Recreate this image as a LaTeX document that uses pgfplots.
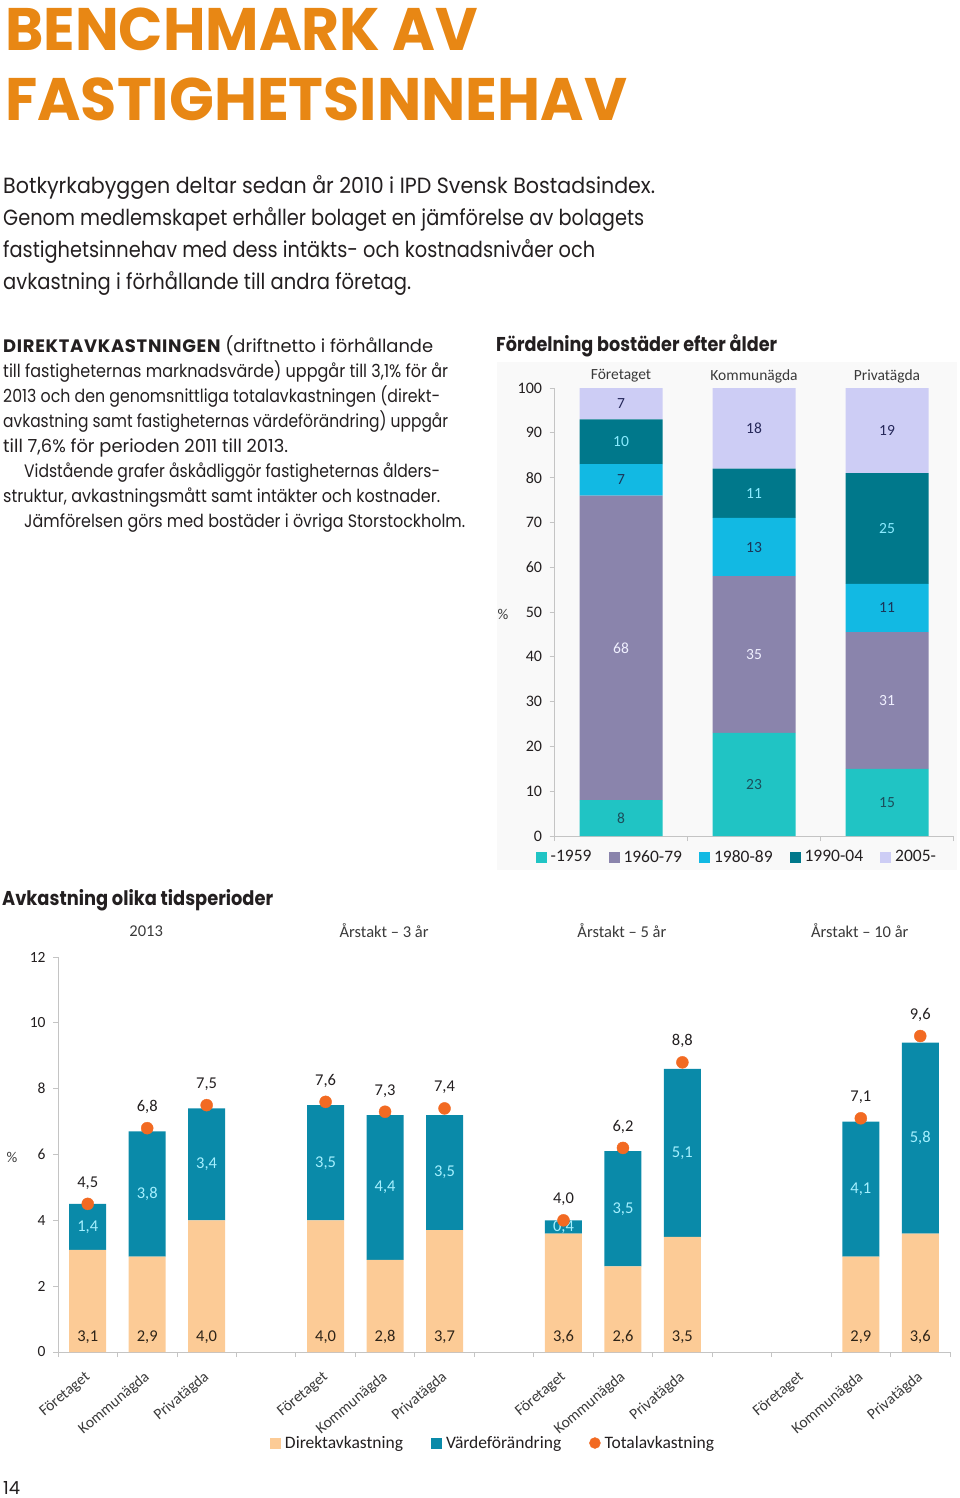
\documentclass[border=0pt]{standalone}
\usepackage{fontspec}
\usepackage{graphicx}
\usepackage{pgfplots}
\pgfplotsset{compat=1.18}
\setmainfont{Carlito}
\newfontfamily\fut{Poppins}
\newfontfamily\calb{Carlito}
\newcommand\fs[1]{\fontsize{#1bp}{#1bp}\selectfont}
\newsavebox\fitbox
\newcommand\fitw[2]{\sbox\fitbox{#2}\pgfmathsetmacro\fitsx{#1/\the\wd\fitbox}\scalebox{\fitsx}[1]{\usebox\fitbox}}
\definecolor{orangeT}{HTML}{E88714}
\definecolor{txt}{HTML}{231F20}
\definecolor{lbl}{HTML}{3A3A3A}
\definecolor{axgrey}{HTML}{C4C4C4}
\definecolor{c1959}{HTML}{20C4C4}
\definecolor{c1960}{HTML}{8A84AC}
\definecolor{c1980}{HTML}{12B9E3}
\definecolor{c1990}{HTML}{00788B}
\definecolor{c2005}{HTML}{CDCDF5}
\definecolor{t1959}{HTML}{1B4F5C}
\definecolor{t1960}{HTML}{F0F0FF}
\definecolor{t1980}{HTML}{1B3558}
\definecolor{t1990}{HTML}{8AEBFF}
\definecolor{t2005}{HTML}{26285A}
\definecolor{direkt}{HTML}{FCCB96}
\definecolor{varde}{HTML}{0A8AA9}
\definecolor{lcyan}{HTML}{A6F0FF}
\definecolor{dot}{HTML}{F26A22}
\definecolor{dlbl}{HTML}{2E2418}
\begin{document}
\begin{tikzpicture}
\path[use as bounding box] (0,0) rectangle (960bp,-1498bp);
% ---- title
\node[anchor=base west, inner sep=0pt, text=orangeT] at (5bp,-50bp) {\fitw{473bp}{\fut\bfseries\fs{60}BENCHMARK AV}};
\node[anchor=base west, inner sep=0pt, text=orangeT] at (5bp,-120bp) {\fitw{622bp}{\fut\bfseries\fs{60}FASTIGHETSINNEHAV}};
% ---- intro
\node[anchor=base west, inner sep=0pt, text=txt] at (3bp,-193bp) {\fitw{652bp}{\fut\fs{22}Botkyrkabyggen deltar sedan år 2010 i IPD Svensk Bostadsindex.}};
\node[anchor=base west, inner sep=0pt, text=txt] at (3bp,-225bp) {\fitw{641bp}{\fut\fs{22}Genom medlemskapet erhåller bolaget en jämförelse av bolagets}};
\node[anchor=base west, inner sep=0pt, text=txt] at (3bp,-257bp) {\fitw{592bp}{\fut\fs{22}fastighetsinnehav med dess intäkts- och kostnadsnivåer och}};
\node[anchor=base west, inner sep=0pt, text=txt] at (3bp,-289bp) {\fitw{408bp}{\fut\fs{22}avkastning i förhållande till andra företag.}};
% ---- left column
\node[anchor=base west, inner sep=0pt, text=txt] at (3bp,-352bp) {\fitw{430bp}{\fut\fs{18}{\bfseries\addfontfeatures{LetterSpace=4}DIREKTAVKASTNINGEN} (driftnetto i förhållande}};
\node[anchor=base west, inner sep=0pt, text=txt] at (3bp,-377bp) {\fitw{445bp}{\fut\fs{18}till fastigheternas marknadsvärde) uppgår till 3,1\% för år}};
\node[anchor=base west, inner sep=0pt, text=txt] at (3bp,-402bp) {\fitw{437bp}{\fut\fs{18}2013 och den genomsnittliga totalavkastningen (direkt-}};
\node[anchor=base west, inner sep=0pt, text=txt] at (3bp,-427bp) {\fitw{445bp}{\fut\fs{18}avkastning samt fastigheternas värdeförändring) uppgår}};
\node[anchor=base west, inner sep=0pt, text=txt] at (3bp,-452bp) {\fitw{285bp}{\fut\fs{18}till 7,6\% för perioden 2011 till 2013.}};
\node[anchor=base west, inner sep=0pt, text=txt] at (24bp,-477bp) {\fitw{416bp}{\fut\fs{18}Vidstående grafer åskådliggör fastigheternas ålders-}};
\node[anchor=base west, inner sep=0pt, text=txt] at (3bp,-502bp) {\fitw{437bp}{\fut\fs{18}struktur, avkastningsmått samt intäkter och kostnader.}};
\node[anchor=base west, inner sep=0pt, text=txt] at (24bp,-527bp) {\fitw{441bp}{\fut\fs{18}Jämförelsen görs med bostäder i övriga Storstockholm.}};
% ---- headings
\node[anchor=base west, inner sep=0pt, text=txt] at (496bp,-351bp) {\fitw{281bp}{\fut\bfseries\fs{20}Fördelning bostäder efter ålder}};
\node[anchor=base west, inner sep=0pt, text=txt] at (2bp,-905bp) {\fitw{271bp}{\fut\bfseries\fs{20}Avkastning olika tidsperioder}};
\node[anchor=base west, inner sep=0pt, text=txt] at (3bp,-1494bp) {\fitw{17bp}{\fut\fs{18}14}};
% ---- faint chart background
\fill[black!2.5] (497bp,-362bp) rectangle (957bp,-870bp);

% ================= top chart
\begin{axis}[
  at={(554.5bp,-836bp)}, anchor=south west,
  scale only axis, width=399bp, height=448bp,
  ybar stacked, bar width=83bp,
  xmin=-0.5, xmax=2.5, ymin=0, ymax=100,
  /pgf/number format/assume math mode=true,
  axis x line*=bottom, axis y line*=left,
  axis line style={draw=axgrey, line width=1bp},
  xtick={0,1,2}, xticklabels={Företaget,Kommunägda,Privatägda},
  minor xtick={-0.5,0.5,1.5,2.5},
  ytick={0,10,...,100}, minor ytick={0,10,...,100},
  major tick length=0pt, minor tick length=5bp, tick align=outside,
  minor tick style={draw=axgrey, line width=0.8bp},
  xticklabel style={font=\calb\fs{15.5}, text=lbl, anchor=center, yshift=460bp},
  yticklabel style={font=\calb\fs{16}, text=txt, xshift=-9bp},
  ylabel={\%},
  every axis y label/.style={at={(axis description cs:-0.129,0.4955)}, anchor=center, font=\calb\fs{15}, text=lbl},
  point meta=explicit symbolic,
  nodes near coords,
  every node near coord/.append style={font=\calb\fs{15.5}, anchor=center},
  legend style={draw=none, fill=none, font=\calb\fs{17.5}, text=txt, legend columns=5,
    at={(axis description cs:0.457,-0.047)}, anchor=center,
    /tikz/every odd column/.append style={column sep=2bp},
    /tikz/every even column/.append style={column sep=15bp}},
]
\addplot[fill=c1959, draw=none, every node near coord/.append style={text=t1959},
  legend image code/.code={\fill[c1959] (0bp,-5.5bp) rectangle (11bp,5.5bp);}]
  coordinates {(0,8) [8] (1,23) [23] (2,15) [15]};
\addlegendentry{-1959}
\addplot[fill=c1960, draw=none, every node near coord/.append style={text=t1960},
  legend image code/.code={\fill[c1960] (0bp,-5.5bp) rectangle (11bp,5.5bp);}]
  coordinates {(0,68) [68] (1,35) [35] (2,30.5) [31]};
\addlegendentry{1960-79}
\addplot[fill=c1980, draw=none, every node near coord/.append style={text=t1980},
  legend image code/.code={\fill[c1980] (0bp,-5.5bp) rectangle (11bp,5.5bp);}]
  coordinates {(0,7) [7] (1,13) [13] (2,10.8) [11]};
\addlegendentry{1980-89}
\addplot[fill=c1990, draw=none, every node near coord/.append style={text=t1990},
  legend image code/.code={\fill[c1990] (0bp,-5.5bp) rectangle (11bp,5.5bp);}]
  coordinates {(0,10) [10] (1,11) [11] (2,24.7) [25]};
\addlegendentry{1990-04}
\addplot[fill=c2005, draw=none, every node near coord/.append style={text=t2005},
  legend image code/.code={\fill[c2005] (0bp,-5.5bp) rectangle (11bp,5.5bp);}]
  coordinates {(0,7) [7] (1,18) [18] (2,19) [19]};
\addlegendentry{2005-}
\end{axis}

% ================= bottom chart (bars)
\begin{axis}[
  at={(58bp,-1352bp)}, anchor=south west,
  scale only axis, width=892bp, height=395bp,
  ybar stacked, bar width=37bp,
  xmin=-0.5, xmax=14.5, ymin=0, ymax=12,
  /pgf/number format/assume math mode=true,
  axis x line*=bottom, axis y line*=left,
  axis line style={draw=axgrey, line width=1bp},
  xtick={0,1,2,4,5,6,8,9,10,12,13,14},
  xticklabels={Företaget,Kommunägda,Privatägda,Företaget,Kommunägda,Privatägda,Företaget,Kommunägda,Privatägda,Företaget,Kommunägda,Privatägda},
  minor xtick={-0.5,0.5,...,14.5},
  ytick={0,2,...,12}, minor ytick={0,2,...,12},
  major tick length=0pt, minor tick length=5bp, tick align=outside,
  minor tick style={draw=axgrey, line width=0.8bp},
  xticklabel style={font=\calb\fs{15.5}, text=lbl, xshift=3bp, yshift=-21bp, rotate=40, anchor=east},
  extra x ticks={1,5,9,13},
  extra x tick labels={2013,Årstakt – 3 år,Årstakt – 5 år,Årstakt – 10 år},
  extra x tick style={xticklabel style={rotate=-40, anchor=center, xshift=-4bp, yshift=442bp, font=\calb\fs{16.5}}},
  yticklabel style={font=\calb\fs{15.5}, text=txt, xshift=-9bp},
  ylabel={\%},
  every axis y label/.style={at={(axis description cs:-0.0516,0.4937)}, anchor=center, font=\calb\fs{15}, text=lbl},
  visualization depends on=rawy \as \rawy,
  nodes near coords={\pgfmathprintnumber[fixed,fixed zerofill,precision=1,use comma,assume math mode=true]{\rawy}},
  every node near coord/.append style={font=\calb\fs{16.5}, anchor=center},
  legend style={draw=none, fill=none, font=\calb\fs{17.5}, text=txt, legend columns=3,
    at={(axis description cs:0.4877,-0.2304)}, anchor=center,
    /tikz/every odd column/.append style={column sep=2bp},
    /tikz/every even column/.append style={column sep=26bp}},
]
\addplot[fill=direkt, draw=none,
  every node near coord/.append style={shift={(axis direction cs:0,-\rawy/2)}, yshift=15bp, text=dlbl},
  legend image code/.code={\fill[direkt] (0bp,-5.5bp) rectangle (11bp,5.5bp);}]
  coordinates {(0,3.1) (1,2.9) (2,4.0) (4,4.0) (5,2.8) (6,3.7) (8,3.6) (9,2.6) (10,3.5) (13,2.9) (14,3.6)};
\addlegendentry{Direktavkastning}
\addplot[fill=varde, draw=none,
  every node near coord/.append style={text=lcyan},
  legend image code/.code={\fill[varde] (0bp,-5.5bp) rectangle (11bp,5.5bp);}]
  coordinates {(0,1.4) (1,3.8) (2,3.4) (4,3.5) (5,4.4) (6,3.5) (8,0.4) (9,3.5) (10,5.1) (13,4.1) (14,5.8)};
\addlegendentry{Värdeförändring}
\addlegendimage{legend image code/.code={\fill[dot] (5.5bp,0bp) circle (5.5bp);}}
\addlegendentry{Totalavkastning}
\end{axis}

% ================= bottom chart (total return dots)
\begin{axis}[
  at={(58bp,-1352bp)}, anchor=south west,
  scale only axis, width=892bp, height=395bp,
  xmin=-0.5, xmax=14.5, ymin=0, ymax=12,
  hide axis, clip=false,
]
\addplot[only marks, mark=*, mark size=6bp, color=dot,
  visualization depends on=rawy \as \rawy,
  nodes near coords={\pgfmathprintnumber[fixed,fixed zerofill,precision=1,use comma,assume math mode=true]{\rawy}},
  every node near coord/.append style={font=\calb\fs{16.5}, anchor=center, yshift=21bp, text=txt}]
  coordinates {(0,4.5) (1,6.8) (2,7.5) (4,7.6) (5,7.3) (6,7.4) (8,4.0) (9,6.2) (10,8.8) (13,7.1) (14,9.6)};
\end{axis}
\end{tikzpicture}
\end{document}
